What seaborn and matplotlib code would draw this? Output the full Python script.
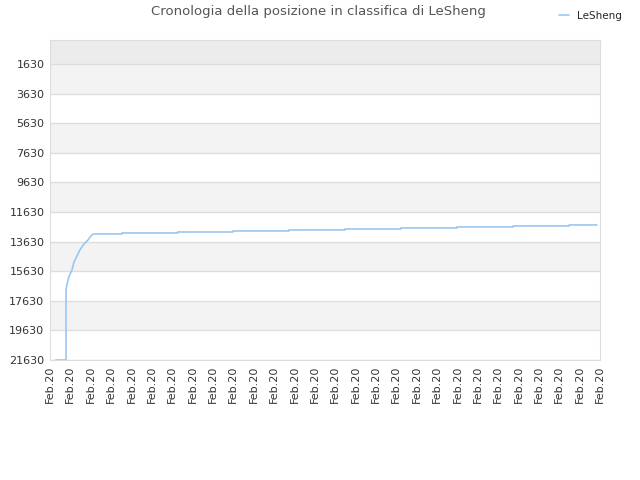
import matplotlib
matplotlib.use("Agg")
import matplotlib.pyplot as plt
import seaborn as sns
import pandas as pd

# posizione in classifica nel tempo (giorni da inizio periodo)
days = [0.29, 0.79, 0.79, 0.85, 0.93, 1.08, 1.18, 1.33, 1.47, 1.67, 1.87, 2.06, 2.16,
        3.53, 3.53, 6.28, 6.28, 8.98, 8.98, 11.73, 11.73, 14.48, 14.48,
        17.23, 17.23, 19.98, 19.98, 22.73, 22.73, 25.48, 25.48, 26.85]
ranks = [21630, 21630, 16900, 16430, 16020, 15550, 15010, 14600, 14200, 13800, 13520, 13180, 13117,
         13117, 13049, 13049, 12982, 12982, 12914, 12914, 12846, 12846, 12779,
         12779, 12711, 12711, 12644, 12644, 12576, 12576, 12509, 12509]

tick_pos = list(range(28))
tick_labels = ["Feb.20"] * 28
y_ticks = [1630, 3630, 5630, 7630, 9630, 11630, 13630, 15630, 17630, 19630, 21630]

df = pd.DataFrame({"giorno": days, "posizione": ranks})

sns.set_style("white")
fig = plt.figure(figsize=(6.4, 4.8), dpi=100)
ax = fig.add_axes([0.078, 0.25, 0.8595, 0.6667])

y_top = 14
y_bot = 21630
ax.set_ylim(y_bot, y_top)
ax.set_xlim(0, 27)

# bande di sfondo
ax.axhspan(y_top, y_ticks[0], color="#ececec", zorder=0, lw=0)
for i in range(len(y_ticks) - 1):
    if i % 2 == 0:
        ax.axhspan(y_ticks[i], y_ticks[i + 1], color="#f3f3f3", zorder=0, lw=0)
for t in y_ticks:
    ax.axhline(t, color="#dddddd", lw=1, zorder=1)

sns.lineplot(data=df, x="giorno", y="posizione", sort=False, estimator=None, ax=ax,
             color="#99c7f2", lw=1.2, label="LeSheng", zorder=3)

ax.set_yticks(y_ticks)
ax.set_yticklabels([str(t) for t in y_ticks], fontsize=8, color="#333333")
ax.set_xticks(tick_pos)
ax.set_xticklabels(tick_labels, rotation=90, fontsize=8, color="#333333")
ax.tick_params(length=0, pad=4)
ax.set_xlabel("")
ax.set_ylabel("")
for s in ax.spines.values():
    s.set_color("#dddddd")

ax.legend(loc="upper left", bbox_to_anchor=(0.917, 1.105), frameon=False,
          fontsize=7.5, handlelength=1.0, borderaxespad=0)

fig.text(0.498, 0.975, "Cronologia della posizione in classifica di LeSheng",
         ha="center", va="center", fontsize=9.5, color="#555555")

fig.savefig("out.png", dpi=100)
